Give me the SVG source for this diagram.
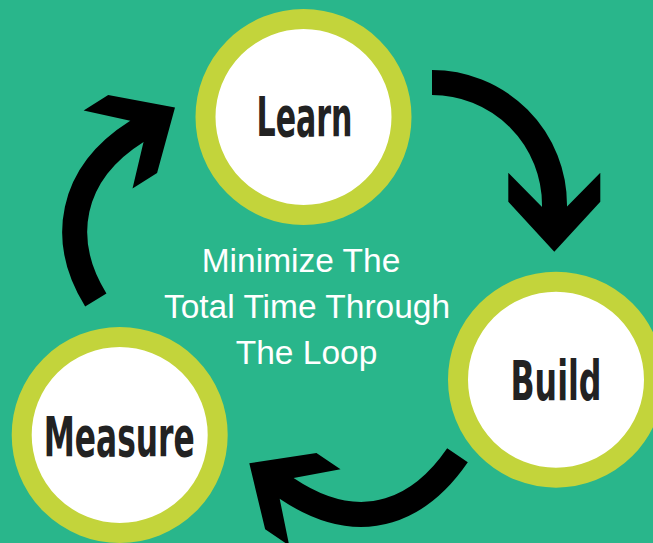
<svg xmlns="http://www.w3.org/2000/svg" xmlns:xlink="http://www.w3.org/1999/xlink" width="653" height="543" viewBox="0 0 653 543">
  <style>
    .ring { fill: #ffffff; stroke: #c3d43b; stroke-width: 20; }
    .label { font-family: "Liberation Sans Narrow", "DejaVu Sans Condensed", "Liberation Sans", sans-serif; font-weight: bold; font-size: 56px; fill: #222222; text-anchor: middle; }
    .center { font-family: "Liberation Sans", Arial, sans-serif; font-size: 33.5px; fill: #ffffff; text-anchor: middle; }
    .shaft { fill: none; stroke: #000000; stroke-width: 25; stroke-linecap: butt; }
    .head { fill: #000000; }
  </style>
  <defs>
    <path id="head" d="M0,0 L46,-50 L46,-79 L12.5,-45 L-12.5,-45 L-46,-79 L-46,-50 Z"/>
  </defs>
  <rect x="0" y="0" width="653" height="543" fill="#29b68b"/>

  <g id="connectors">
    <path class="shaft" d="M432,82.5 A122.5,122.5 0 0 1 554.5,205 L554.5,214"/>
    <use href="#head" xlink:href="#head" class="head" transform="translate(554.3,251.7)"/>
    <path class="shaft" d="M457.5,455.3 C423.5,504.9 365.4,541.4 286.6,488.4 L280.8,484.5"/>
    <use href="#head" xlink:href="#head" class="head" transform="translate(249.3,463.3) rotate(123.9)"/>
    <path class="shaft" d="M95.8,300 C59,240.4 69.1,174 136.9,131.4 L142.8,127.7"/>
    <use href="#head" xlink:href="#head" class="head" transform="translate(175,107.5) rotate(-122.1)"/>
  </g>

  <g id="learn">
    <circle class="ring" cx="303.5" cy="117" r="98"/>
    <text class="label" x="304.5" y="136" textLength="96" lengthAdjust="spacingAndGlyphs">Learn</text>
  </g>
  <g id="build">
    <circle class="ring" cx="556" cy="379.7" r="98"/>
    <text class="label" x="556" y="400" textLength="91" lengthAdjust="spacingAndGlyphs">Build</text>
  </g>
  <g id="measure">
    <circle class="ring" cx="119.7" cy="435" r="98"/>
    <text class="label" x="119.2" y="456" textLength="151" lengthAdjust="spacingAndGlyphs">Measure</text>
  </g>

  <g id="caption">
    <text class="center" x="301" y="272">Minimize The</text>
    <text class="center" x="307" y="318">Total Time Through</text>
    <text class="center" x="306.5" y="364">The Loop</text>
  </g>
</svg>
